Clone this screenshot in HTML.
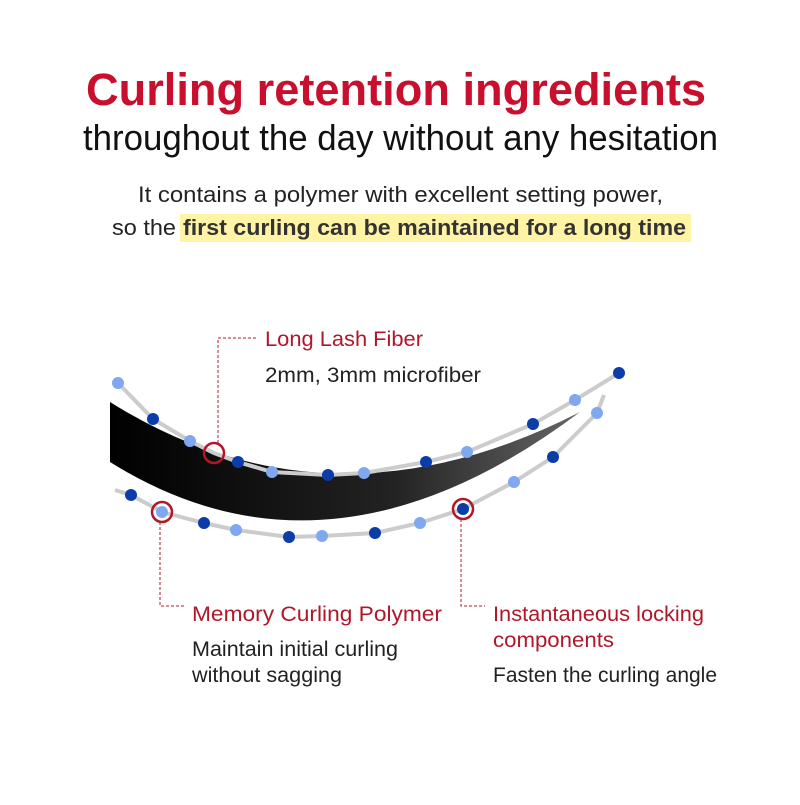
<!DOCTYPE html>
<html><head><style>
body{margin:0;width:800px;height:800px;background:#fff;overflow:hidden;font-family:"Liberation Sans",sans-serif}
</style></head><body>
<svg width="800" height="800" viewBox="0 0 800 800" xmlns="http://www.w3.org/2000/svg" font-family="Liberation Sans, sans-serif">
<defs><linearGradient id="g" x1="0" x2="1"><stop offset="0" stop-color="#000"/><stop offset="0.6" stop-color="#222"/><stop offset="1" stop-color="#666"/></linearGradient></defs>
<text x="86" y="105" font-size="45" font-weight="bold" fill="#c8102e" textLength="620" lengthAdjust="spacingAndGlyphs">Curling retention ingredients</text>
<text x="83" y="150" font-size="36" fill="#111" textLength="635" lengthAdjust="spacingAndGlyphs">throughout the day without any hesitation</text>
<text x="138" y="202" font-size="22" fill="#222" textLength="525" lengthAdjust="spacingAndGlyphs">It contains a polymer with excellent setting power,</text>
<rect x="180" y="214" width="511" height="28" fill="#fff3a6"/>
<text x="112" y="235" font-size="22" fill="#222" textLength="64" lengthAdjust="spacingAndGlyphs">so the</text>
<text x="183" y="235" font-size="22" font-weight="bold" fill="#333" textLength="503" lengthAdjust="spacingAndGlyphs">first curling can be maintained for a long time</text>
<path d="M110,402 Q330,540 580,412 Q330,600 110,462 Z" fill="url(#g)"/>
<polyline points="118,383 153,419 190,441 214,453 238,462 272,472 328,475 364,473 426,462 467,452 533,424 575,400 619,373" fill="none" stroke="#ccc" stroke-width="4"/>
<polyline points="115,490 131,495 162,512 204,523 236,530 289,537 322,536 375,533 420,523 463,509 514,482 553,457 597,413 604,395" fill="none" stroke="#ccc" stroke-width="4"/>
<g fill="#7fa8f0">
<circle cx="118" cy="383" r="6"/><circle cx="190" cy="441" r="6"/><circle cx="272" cy="472" r="6"/><circle cx="364" cy="473" r="6"/><circle cx="467" cy="452" r="6"/><circle cx="575" cy="400" r="6"/>
<circle cx="162" cy="512" r="6"/><circle cx="236" cy="530" r="6"/><circle cx="322" cy="536" r="6"/><circle cx="420" cy="523" r="6"/><circle cx="514" cy="482" r="6"/><circle cx="597" cy="413" r="6"/></g>
<g fill="#0b3ca8">
<circle cx="153" cy="419" r="6"/><circle cx="238" cy="462" r="6"/><circle cx="328" cy="475" r="6"/><circle cx="426" cy="462" r="6"/><circle cx="533" cy="424" r="6"/><circle cx="619" cy="373" r="6"/>
<circle cx="131" cy="495" r="6"/><circle cx="204" cy="523" r="6"/><circle cx="289" cy="537" r="6"/><circle cx="375" cy="533" r="6"/><circle cx="463" cy="509" r="6"/><circle cx="553" cy="457" r="6"/></g>
<g fill="none" stroke="#b0182a" stroke-width="2.5">
<circle cx="214" cy="453" r="10"/><circle cx="162" cy="512" r="10"/><circle cx="463" cy="509" r="10"/></g>
<g fill="none" stroke="#b0182a" stroke-width="1" stroke-dasharray="3,2">
<polyline points="218,443 218,338 258,338"/>
<polyline points="160,522 160,606 185,606"/>
<polyline points="461,519 461,606 485,606"/></g>
<g font-size="21" lengthAdjust="spacingAndGlyphs">
<text x="265" y="346" fill="#b0182a" textLength="158" lengthAdjust="spacingAndGlyphs">Long Lash Fiber</text>
<text x="265" y="382" fill="#222" textLength="216" lengthAdjust="spacingAndGlyphs">2mm, 3mm microfiber</text>
<text x="192" y="621" fill="#b0182a" textLength="250" lengthAdjust="spacingAndGlyphs">Memory Curling Polymer</text>
<text x="192" y="656" fill="#222" textLength="206" lengthAdjust="spacingAndGlyphs">Maintain initial curling</text>
<text x="192" y="682" fill="#222" textLength="150" lengthAdjust="spacingAndGlyphs">without sagging</text>
<text x="493" y="621" fill="#b0182a" textLength="211" lengthAdjust="spacingAndGlyphs">Instantaneous locking</text>
<text x="493" y="647" fill="#b0182a" textLength="121" lengthAdjust="spacingAndGlyphs">components</text>
<text x="493" y="682" fill="#222" textLength="224" lengthAdjust="spacingAndGlyphs">Fasten the curling angle</text>
</g>
</svg>
</body></html>
